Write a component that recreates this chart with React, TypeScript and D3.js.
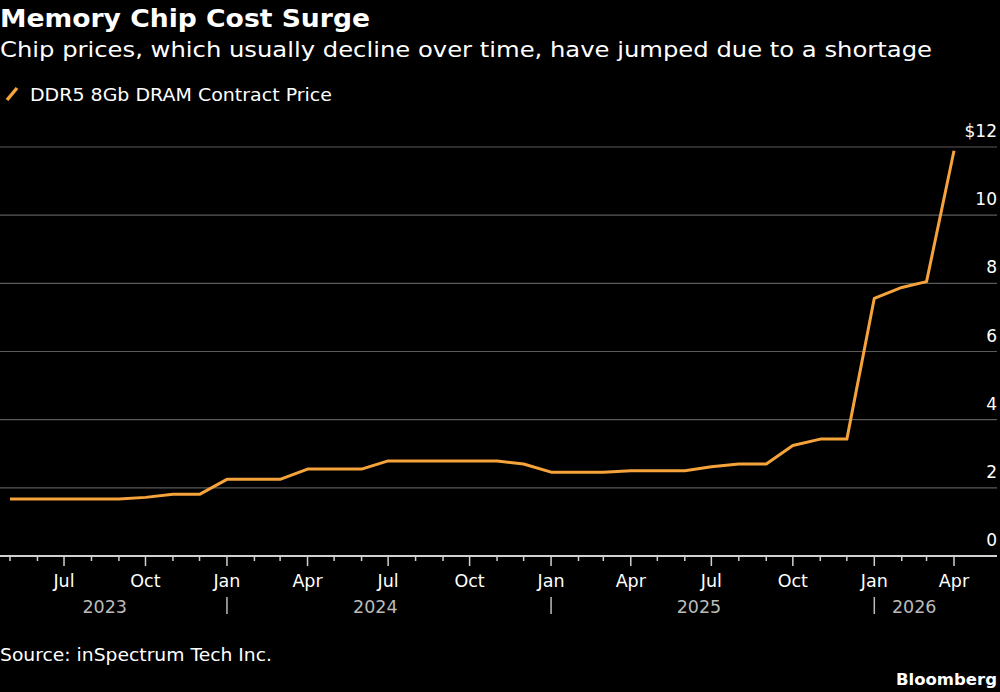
import React, { useEffect } from 'react';
import * as d3 from 'd3';

// Monthly DDR5 8Gb DRAM contract price, May 2023 - Apr 2026
const months = [
  '2023-05', '2023-06', '2023-07', '2023-08', '2023-09', '2023-10', '2023-11', '2023-12',
  '2024-01', '2024-02', '2024-03', '2024-04', '2024-05', '2024-06', '2024-07', '2024-08',
  '2024-09', '2024-10', '2024-11', '2024-12', '2025-01', '2025-02', '2025-03', '2025-04',
  '2025-05', '2025-06', '2025-07', '2025-08', '2025-09', '2025-10', '2025-11', '2025-12',
  '2026-01', '2026-02', '2026-03', '2026-04',
];
const prices = [
  1.67, 1.67, 1.67, 1.67, 1.67, 1.72, 1.81, 1.81,
  2.25, 2.25, 2.25, 2.55, 2.55, 2.55, 2.79, 2.79,
  2.79, 2.79, 2.79, 2.7, 2.46, 2.46, 2.46, 2.5,
  2.5, 2.5, 2.62, 2.7, 2.7, 3.24, 3.43, 3.43,
  7.56, 7.88, 8.05, 11.89,
];
const yTicks = [0, 2, 4, 6, 8, 10, 12];
const years = [2023, 2024, 2025, 2026];

const width = 1000;
const height = 692;
const font = "'DejaVu Sans', sans-serif";
const orange = '#F5A33A';

const parse = d3.timeParse('%Y-%m');

const App = () => {
  useEffect(() => {
    document.body.style.margin = '0';
    document.body.style.background = '#000';
  }, []);

  const dates = months.map((m) => parse(m) as Date);
  const start = dates[0];
  const end = dates[dates.length - 1];

  const x = d3.scaleTime().domain([start, end]).range([10, 954]);
  const y = d3.scaleLinear().domain([0, 12]).range([556, 147]);

  const line = d3
    .line<number>()
    .x((_, i) => x(dates[i]))
    .y((d) => y(d));

  const monthTicks = d3.timeMonth.range(start, d3.timeMonth.offset(end, 1));
  const fmt = d3.timeFormat('%b');

  return (
    <svg width={width} height={height} style={{ display: 'block', background: '#000' }}>
      {/* titles */}
      <text x={0} y={27} fill="#fff" fontFamily={font} fontWeight={700} fontSize={25} textLength={370} lengthAdjust="spacingAndGlyphs">
        Memory Chip Cost Surge
      </text>
      <text x={0} y={57} fill="#fff" fontFamily={font} fontSize={21} textLength={932} lengthAdjust="spacingAndGlyphs">
        Chip prices, which usually decline over time, have jumped due to a shortage
      </text>

      {/* legend */}
      <line x1={7} y1={100} x2={17} y2={88} stroke={orange} strokeWidth={3.5} />
      <text x={30} y={101} fill="#fff" fontFamily={font} fontSize={18} textLength={302} lengthAdjust="spacingAndGlyphs">
        DDR5 8Gb DRAM Contract Price
      </text>

      {/* grid */}
      {yTicks.filter((t) => t > 0).map((t) => (
        <line key={t} x1={0} x2={997} y1={y(t)} y2={y(t)} stroke="#5a5a5a" strokeWidth={1.2} />
      ))}
      {yTicks.map((t) => (
        <text
          key={`l${t}`}
          x={997}
          y={y(t) - 10}
          textAnchor="end"
          fill="#fff"
          fontFamily={font}
          fontSize={17}
        >
          {t === 12 ? `$${t}` : t}
        </text>
      ))}

      {/* series */}
      <path d={line(prices) || ''} fill="none" stroke={orange} strokeWidth={3} strokeLinejoin="round" />

      {/* x axis */}
      <line x1={0} x2={997} y1={y(0)} y2={y(0)} stroke="#d0d0d0" strokeWidth={2} />
      {monthTicks.map((d) => {
        const major = d.getMonth() % 3 === 0;
        return (
          <g key={d.toISOString()}>
            <line
              x1={x(d)}
              x2={x(d)}
              y1={y(0)}
              y2={y(0) + (major ? 10 : 5)}
              stroke="#d0d0d0"
              strokeWidth={1.5}
            />
            {major && (
              <text
                x={x(d)}
                y={587}
                textAnchor="middle"
                fill="#fff"
                fontFamily={font}
                fontSize={17.5}
              >
                {fmt(d)}
              </text>
            )}
            {d.getMonth() === 0 && (
              <line x1={x(d)} x2={x(d)} y1={597} y2={614} stroke="#bbb" strokeWidth={1.5} />
            )}
          </g>
        );
      })}
      {years.map((yr) => {
        const a = d3.max([start, new Date(yr, 0, 1)]) as Date;
        const b = d3.min([end, new Date(yr, 11, 1)]) as Date;
        return (
          <text
            key={yr}
            x={(x(a) + x(b)) / 2}
            y={613}
            textAnchor="middle"
            fill="#bbb"
            fontFamily={font}
            fontSize={17.5}
          >
            {yr}
          </text>
        );
      })}

      {/* footer */}
      <text x={0} y={661} fill="#fff" fontFamily={font} fontSize={17} textLength={272} lengthAdjust="spacingAndGlyphs">
        Source: inSpectrum Tech Inc.
      </text>
      <text x={997} y={685} textAnchor="end" fill="#fff" fontFamily={font} fontWeight={700} fontSize={16.5}>
        Bloomberg
      </text>
    </svg>
  );
};

export default App;
